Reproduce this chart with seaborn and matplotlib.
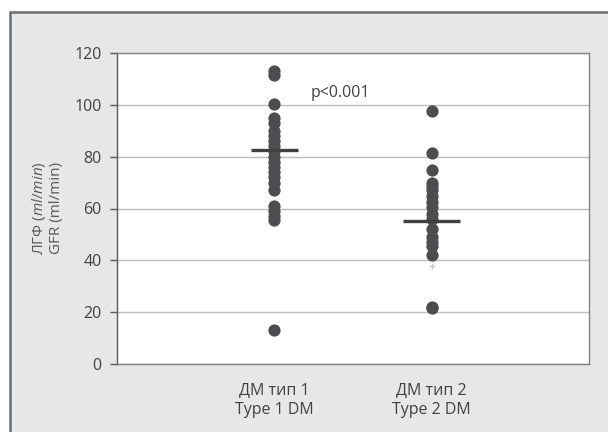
import matplotlib
matplotlib.use("Agg")
import matplotlib.pyplot as plt
import seaborn as sns
import pandas as pd
from matplotlib.patches import Rectangle

# ---- data ----
categories = ["ДМ тип 1\nType 1 DM", "ДМ тип 2\nType 2 DM"]
type1_gfr = [113, 111.5, 100.5, 95, 93, 90, 88, 86, 84, 82, 80, 78, 76, 74,
             72, 70, 67, 61, 59, 57, 55.5, 13]
type2_gfr = [97.5, 81.5, 75, 70, 68.5, 67, 65, 62.5, 60.5, 58, 56, 52, 49,
             47, 45.5, 42, 22, 21.5]
group_means = [82.7, 55.0]
mean_halfwidths = [0.15, 0.18]
extra_x_vals = [55]
extra_plus_vals = [38]
y_ticks = [0, 20, 40, 60, 80, 100, 120]
p_text = "p<0.001"

sns.set_theme(style="white")
plt.rcParams["font.family"] = ["Open Sans", "DejaVu Sans"]
plt.rcParams["mathtext.fontset"] = "custom"
plt.rcParams["mathtext.it"] = "Open Sans:italic"
plt.rcParams["mathtext.rm"] = "Open Sans"

df = pd.DataFrame({
    "group": [categories[0]] * len(type1_gfr) + [categories[1]] * len(type2_gfr),
    "gfr": type1_gfr + type2_gfr,
})

fig = plt.figure(figsize=(6.08, 4.32), dpi=100)
fig.patch.set_facecolor("white")
fig.patches.append(Rectangle((10 / 608, -0.2), 1.2, 1.2 - 12 / 432,
                             transform=fig.transFigure, facecolor="#e6e7e8",
                             edgecolor="#6d6e71", linewidth=1.8, zorder=-10))

ax = fig.add_axes([117 / 608, 1 - 364 / 432, 472 / 608, 311 / 432])
ax.set_facecolor("white")

grey = "#4d4d4f"
sns.stripplot(data=df, x="group", y="gfr", order=categories, jitter=False,
              color=grey, size=8.8, linewidth=0, ax=ax, zorder=3)

for i, (m, hw) in enumerate(zip(group_means, mean_halfwidths)):
    ax.hlines(m, i - hw, i + hw, color="#3f4042", linewidth=2.4, zorder=4)

ax.scatter([0] * len(extra_x_vals), extra_x_vals, marker="x", s=14,
           color="#58595b", linewidths=1.0, zorder=2)
ax.scatter([1] * len(extra_plus_vals), extra_plus_vals, marker="+", s=18,
           color="#c8c8c8", linewidths=1.0, zorder=2)

ax.set_xlim(-1, 2)
ax.set_ylim(0, 120)
ax.set_yticks(y_ticks)
ax.yaxis.grid(True, color="#bcbdc0", linewidth=1.0)
ax.set_axisbelow(True)

for s in ["top", "right", "bottom"]:
    ax.spines[s].set_color("#808285")
    ax.spines[s].set_linewidth(1.0)
ax.spines["left"].set_color("#58595b")
ax.spines["left"].set_linewidth(1.0)

ax.tick_params(axis="y", which="both", left=True, length=5, width=1,
               color="#58595b", labelcolor="#414042", labelsize=11.5, pad=6)
ax.tick_params(axis="x", bottom=False, labelcolor="#414042", labelsize=11.5,
               pad=7)
for lab in ax.get_xticklabels():
    lab.set_linespacing(1.3)

ax.set_xlabel("")
ax.set_ylabel("ЛГФ ($\\mathit{ml/min}$)\nGFR (ml/min)", color="#58595b",
              fontsize=11, labelpad=7.5, linespacing=1.1)

ax.text(0.42, 104.5, p_text, ha="center", va="center", fontsize=11.5,
        color="#414042")

fig.savefig("out.png", dpi=100, facecolor=fig.get_facecolor())
